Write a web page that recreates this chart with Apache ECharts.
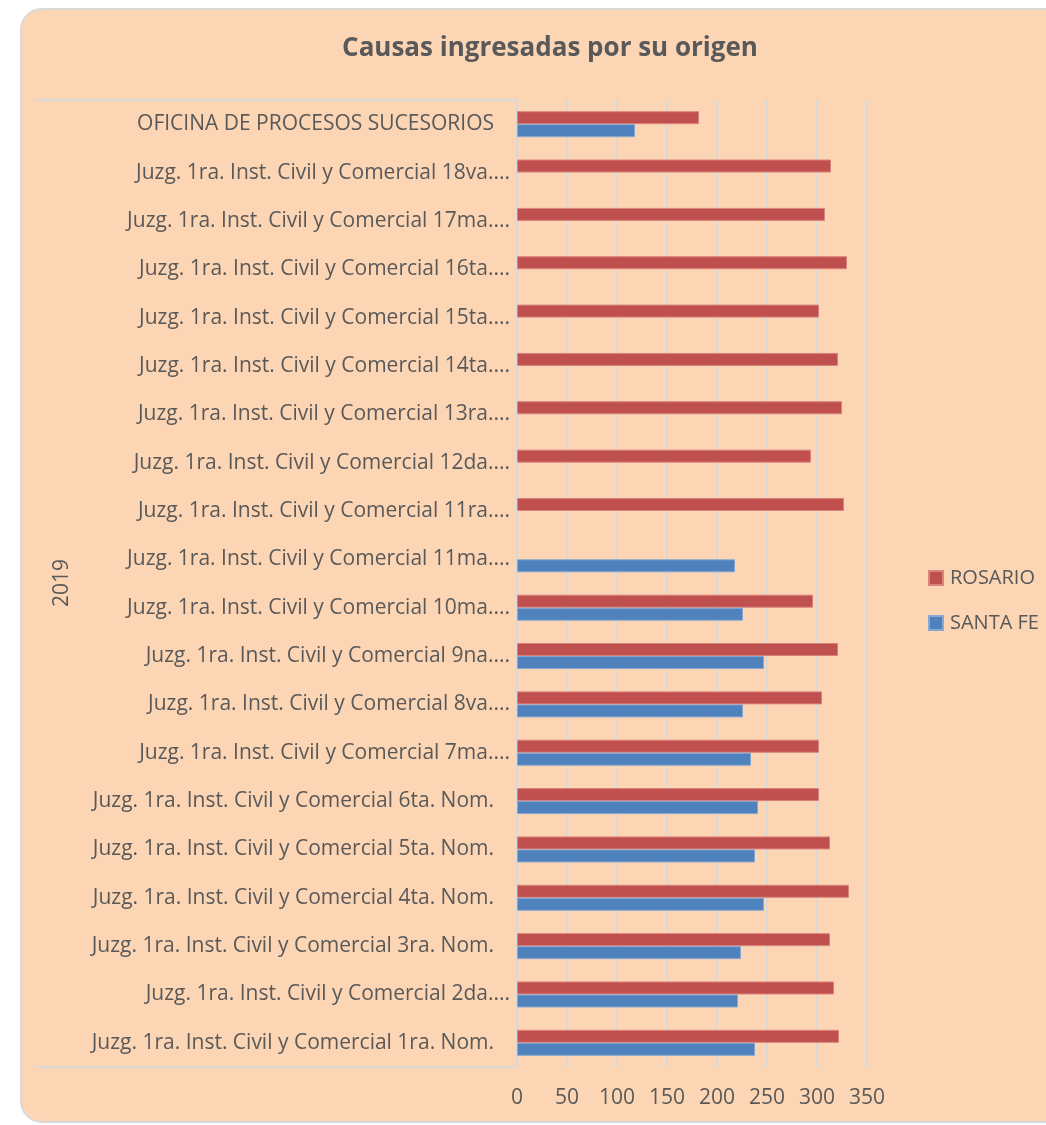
<!DOCTYPE html>
<html>
<head>
<meta charset="utf-8">
<script src="https://cdn.jsdelivr.net/npm/echarts@6/dist/echarts.min.js"></script>
<style>
  html, body { margin: 0; padding: 0; background: #ffffff; }
  #card {
    position: absolute; left: 20px; top: 8px; width: 1100px; height: 1115px;
    background: #fcd5b4; border: 2px solid #d9d9d9; border-radius: 22px; box-sizing: border-box;
  }
  #main { position: absolute; left: 0; top: 0; width: 1046px; height: 1125px; }
</style>
</head>
<body>
<div id="card"></div>
<div id="main"></div>
<script>
// categorias (de abajo hacia arriba)
var categorias = [
  'Juzg. 1ra. Inst. Civil y Comercial 1ra. Nom.',
  'Juzg. 1ra. Inst. Civil y Comercial 2da....',
  'Juzg. 1ra. Inst. Civil y Comercial 3ra. Nom.',
  'Juzg. 1ra. Inst. Civil y Comercial 4ta. Nom.',
  'Juzg. 1ra. Inst. Civil y Comercial 5ta. Nom.',
  'Juzg. 1ra. Inst. Civil y Comercial 6ta. Nom.',
  'Juzg. 1ra. Inst. Civil y Comercial 7ma....',
  'Juzg. 1ra. Inst. Civil y Comercial 8va....',
  'Juzg. 1ra. Inst. Civil y Comercial 9na....',
  'Juzg. 1ra. Inst. Civil y Comercial 10ma....',
  'Juzg. 1ra. Inst. Civil y Comercial 11ma....',
  'Juzg. 1ra. Inst. Civil y Comercial 11ra....',
  'Juzg. 1ra. Inst. Civil y Comercial 12da....',
  'Juzg. 1ra. Inst. Civil y Comercial 13ra....',
  'Juzg. 1ra. Inst. Civil y Comercial 14ta....',
  'Juzg. 1ra. Inst. Civil y Comercial 15ta....',
  'Juzg. 1ra. Inst. Civil y Comercial 16ta....',
  'Juzg. 1ra. Inst. Civil y Comercial 17ma....',
  'Juzg. 1ra. Inst. Civil y Comercial 18va....',
  'OFICINA DE PROCESOS SUCESORIOS'
];
var rosario = [322, 317, 313, 332, 313, 302, 302, 305, 321, 296, null, 327, 294, 325, 321, 302, 330, 308, 314, 182];
var santaFe = [238, 221, 224, 247, 238, 241, 234, 226, 247, 226, 218, null, null, null, null, null, null, null, null, 118];
var ticksX = [0, 50, 100, 150, 200, 250, 300, 350];
var anio = '2019';

var fuente = 'Open Sans';
var gris = '#595959';

var myChart = echarts.init(document.getElementById('main'));
var option = {
  backgroundColor: 'transparent',
  textStyle: { fontFamily: fuente },
  title: {
    text: 'Causas ingresadas por su origen',
    left: 545, top: 31, textAlign: 'center',
    textStyle: { fontFamily: fuente, fontSize: 26, fontWeight: 'bold', color: gris }
  },
  legend: {
    orient: 'vertical', left: 928, top: 568, itemGap: 25, padding: 0,
    itemWidth: 14, itemHeight: 14, icon: 'rect',
    textStyle: { fontFamily: fuente, fontSize: 20, color: gris, padding: [0, 0, 0, 2] },
    data: ['ROSARIO', 'SANTA FE']
  },
  grid: { left: 517, top: 100, width: 350, height: 967 },
  xAxis: {
    type: 'value', min: 0, max: 350, interval: 50,
    axisLine: { show: false }, axisTick: { show: false },
    splitLine: { lineStyle: { color: '#d9d9d9', width: 2 } },
    axisLabel: {
      margin: 21, fontFamily: fuente, fontSize: 21, color: gris,
      formatter: function (v) { return ticksX.indexOf(v) >= 0 ? String(v) : ''; }
    }
  },
  yAxis: {
    type: 'category', data: categorias,
    axisLine: { lineStyle: { color: '#d9d9d9', width: 2 } },
    axisTick: { show: false },
    axisLabel: {
      margin: 7, fontFamily: fuente, fontSize: 21, color: gris,
      formatter: function (v) {
        return v.slice(-4) === '....' ? '{t|' + v + '}' : '{f|' + v + '}';
      },
      rich: {
        t: { fontFamily: fuente, fontSize: 21, color: gris },
        f: { fontFamily: fuente, fontSize: 21, color: gris, padding: [0, 16, 0, 0] }
      }
    }
  },
  series: [
    {
      name: 'ROSARIO', type: 'bar', data: rosario,
      barWidth: 13, barGap: '0%',
      itemStyle: { color: '#c0504d', borderColor: '#d9837f', borderWidth: 1 }
    },
    {
      name: 'SANTA FE', type: 'bar', data: santaFe,
      barWidth: 13, barGap: '0%',
      itemStyle: { color: '#4f81bd', borderColor: '#86a8d2', borderWidth: 1 }
    }
  ],
  graphic: [
    { type: 'line', shape: { x1: 35, y1: 100, x2: 517, y2: 100 }, style: { stroke: '#d9d9d9', lineWidth: 2 } },
    { type: 'line', shape: { x1: 35, y1: 1067, x2: 517, y2: 1067 }, style: { stroke: '#d9d9d9', lineWidth: 2 } },
    {
      type: 'text', x: 62, y: 583, rotation: Math.PI / 2,
      style: { text: anio, fontFamily: fuente, fontSize: 21, fill: gris, textAlign: 'center', textVerticalAlign: 'middle' }
    }
  ]
};
myChart.setOption(option);
</script>
</body>
</html>
